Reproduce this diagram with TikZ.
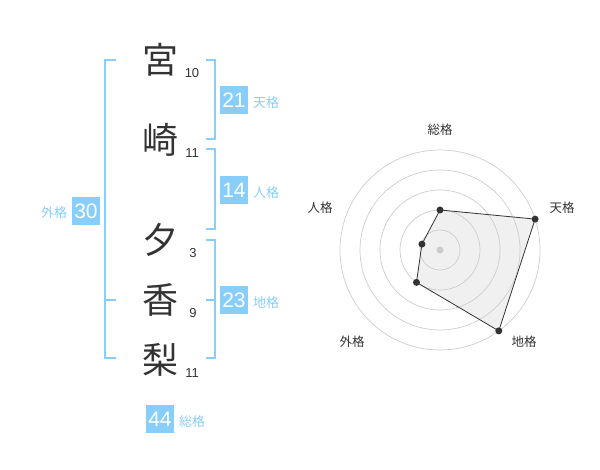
\documentclass[tikz,border=0pt]{standalone}
\usepackage{fontspec}
\setmainfont{Liberation Sans}
\newfontfamily\jpfont{Noto Sans CJK JP}
\usetikzlibrary{calc}
\definecolor{kakublue}{RGB}{135,206,250}
\definecolor{inkgray}{RGB}{51,51,51}
\definecolor{ringgray}{RGB}{205,205,205}

\tikzset{
  namechar/.style={inkgray, inner sep=0, font=\jpfont\fontsize{36}{36}\selectfont},
  strokes/.style={inkgray, inner sep=0, font=\fontsize{13}{13}\selectfont},
  kakubox/.style={fill=kakublue, text=white, minimum size=28pt, inner sep=0, font=\fontsize{21}{21}\selectfont},
  kakulabel/.style={kakublue, inner sep=0, font=\jpfont\fontsize{13}{13}\selectfont},
  bracket/.style={kakublue, line width=2pt},
  radarlabel/.style={inkgray, inner sep=0, font=\jpfont\fontsize{12.5}{12.5}\selectfont}
}

\begin{document}
\begin{tikzpicture}[x=1pt,y=-1pt]
    \useasboundingbox (0,0) rectangle (600,470);

    % Name characters with stroke counts
    \node[namechar] (c1) at (160,60) {宮};
    \node[namechar] (c2) at (160,140) {崎};
    \node[namechar] (c3) at (160,240) {夕};
    \node[namechar] (c4) at (160,300) {香};
    \node[namechar] (c5) at (160,360) {梨};
    \node[strokes] (n1) at (192,73) {10};
    \node[strokes] (n2) at (192,153) {11};
    \node[strokes] (n3) at (193,253) {3};
    \node[strokes] (n4) at (193,313) {9};
    \node[strokes] (n5) at (192,373) {11};

    % Brackets
    \draw[bracket] (116,60) -- (105,60) -- (105,358) -- (116,358);
    \draw[bracket] (105,300) -- (116,300);
    \draw[bracket] (206,60) -- (215,60) -- (215,139) -- (206,139);
    \draw[bracket] (206,149) -- (215,149) -- (215,229) -- (206,229);
    \draw[bracket] (206,240) -- (215,240) -- (215,358) -- (206,358);
    \draw[bracket] (206,300) -- (215,300);

    % Fortune boxes
    \node[kakubox] (ten) at (234,100) {21};
    \node[kakulabel] (tenL) at (266,103) {天格};
    \node[kakubox] (jin) at (234,190) {14};
    \node[kakulabel] (jinL) at (266,193) {人格};
    \node[kakubox] (chi) at (234,300) {23};
    \node[kakulabel] (chiL) at (266,303) {地格};
    \node[kakubox] (gai) at (86,211) {30};
    \node[kakulabel] (gaiL) at (54,213) {外格};
    \node[kakubox] (sou) at (160,419) {44};
    \node[kakulabel] (souL) at (192,422) {総格};

    % Radar chart
    \begin{scope}[shift={(440,250)}]
        \coordinate (pSou) at (-90:40);
        \coordinate (pTen) at (-18:100);
        \coordinate (pChi) at (54:100);
        \coordinate (pGai) at (126:40);
        \coordinate (pJin) at (198:19);
        \fill[gray!12] (pSou) -- (pTen) -- (pChi) -- (pGai) -- (pJin) -- cycle;
        \foreach \r in {20,40,60,80,100}
            \draw[ringgray, line width=0.7pt] (0,0) circle (\r);
        \fill[ringgray] (0,0) circle (3.5);
        \draw[inkgray, line width=0.8pt] (pSou) -- (pTen) -- (pChi) -- (pGai) -- (pJin) -- cycle;
        \foreach \p in {pSou,pTen,pChi,pGai,pJin}
            \fill[inkgray] (\p) circle (3.5);
    \end{scope}
    \node[radarlabel] (rSou) at (440,130) {総格};
    \node[radarlabel] (rTen) at (562,208) {天格};
    \node[radarlabel] (rChi) at (524,342) {地格};
    \node[radarlabel] (rGai) at (352,342) {外格};
    \node[radarlabel] (rJin) at (320,208) {人格};
\end{tikzpicture}
\end{document}
